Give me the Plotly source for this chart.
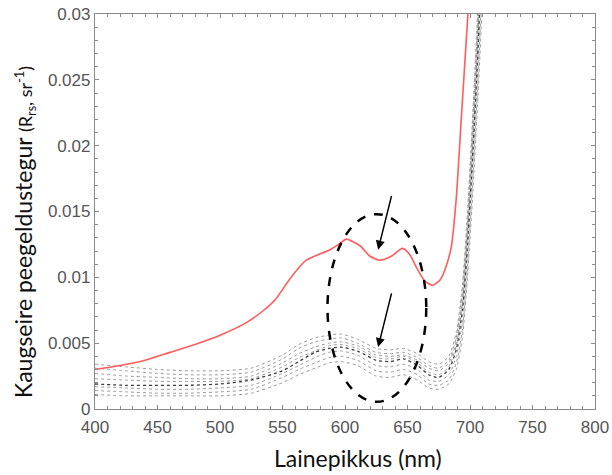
import plotly.graph_objects as go

# Remote-sensing reflectance spectra (Rrs, sr^-1) against wavelength (nm)
WL_RED = [400, 420, 440, 460, 480, 500, 520, 535, 545, 553, 561, 569, 578, 588, 595,
          601, 612, 620, 628, 637, 646, 652, 658, 664, 670, 676, 680, 685, 689, 693, 696, 699]
RRS_RED = [0.0030, 0.0033, 0.0037, 0.0043, 0.0049, 0.0056, 0.0065, 0.0075, 0.0084, 0.0095,
           0.0105, 0.0113, 0.0117, 0.0121, 0.0125, 0.0129, 0.0124, 0.0116, 0.0113, 0.0116,
           0.0122, 0.0117, 0.0106, 0.0097, 0.0094, 0.0098, 0.0106, 0.0123, 0.0160, 0.0220,
           0.0265, 0.0310]

WL_GRAY = [400, 425, 450, 475, 500, 525, 550, 563, 576, 587, 597, 610, 625, 636, 647,
           658, 667, 675, 683, 689, 694, 698, 702, 706, 710, 714]

RRS_G1 = [0.0034, 0.0032, 0.0030, 0.0029, 0.0029, 0.0031, 0.0041, 0.0049, 0.0054, 0.0056,
          0.0057, 0.0053, 0.0046, 0.0045, 0.0046, 0.0042, 0.0036, 0.0034, 0.0040, 0.0058,
          0.0095, 0.0150, 0.0220, 0.0300, 0.0400, 0.0500]
RRS_G2 = [0.0031, 0.0029, 0.0027, 0.0026, 0.0026, 0.0028, 0.0038, 0.0046, 0.0051, 0.0053,
          0.0054, 0.0050, 0.0043, 0.0042, 0.0043, 0.0039, 0.0033, 0.0031, 0.0037, 0.0054,
          0.0090, 0.0144, 0.0214, 0.0292, 0.0390, 0.0490]
RRS_G3 = [0.0027, 0.0025, 0.0024, 0.0023, 0.0023, 0.0025, 0.0035, 0.0042, 0.0047, 0.0050,
          0.0051, 0.0048, 0.0041, 0.0040, 0.0041, 0.0037, 0.0031, 0.0029, 0.0035, 0.0051,
          0.0085, 0.0138, 0.0206, 0.0284, 0.0380, 0.0480]
RRS_G4 = [0.0023, 0.0022, 0.0021, 0.0021, 0.0021, 0.0023, 0.0032, 0.0039, 0.0044, 0.0048,
          0.0049, 0.0046, 0.0039, 0.0038, 0.0040, 0.0035, 0.0028, 0.0026, 0.0032, 0.0048,
          0.0080, 0.0132, 0.0198, 0.0275, 0.0370, 0.0470]
RRS_MEAN = [0.0019, 0.0018, 0.0018, 0.0018, 0.0019, 0.0022, 0.0029, 0.0036, 0.0043, 0.0046,
            0.0047, 0.0044, 0.0037, 0.0036, 0.0038, 0.0033, 0.0026, 0.0024, 0.0030, 0.0045,
            0.0076, 0.0126, 0.0191, 0.0266, 0.0360, 0.0460]
RRS_G6 = [0.0017, 0.0016, 0.0015, 0.0015, 0.0016, 0.0018, 0.0027, 0.0033, 0.0039, 0.0043,
          0.0044, 0.0041, 0.0033, 0.0032, 0.0034, 0.0030, 0.0022, 0.0021, 0.0026, 0.0040,
          0.0068, 0.0118, 0.0182, 0.0256, 0.0345, 0.0445]
RRS_G7 = [0.0014, 0.0013, 0.0012, 0.0012, 0.0013, 0.0015, 0.0024, 0.0030, 0.0035, 0.0039,
          0.0040, 0.0037, 0.0029, 0.0028, 0.0030, 0.0026, 0.0019, 0.0018, 0.0022, 0.0035,
          0.0061, 0.0108, 0.0170, 0.0243, 0.0328, 0.0420]
RRS_G8 = [0.0011, 0.0010, 0.0010, 0.0010, 0.0010, 0.0012, 0.0020, 0.0026, 0.0031, 0.0035,
          0.0036, 0.0033, 0.0025, 0.0024, 0.0026, 0.0022, 0.0016, 0.0015, 0.0019, 0.0030,
          0.0055, 0.0100, 0.0160, 0.0230, 0.0310, 0.0400]

GRAY_SERIES = [RRS_G1, RRS_G2, RRS_G3, RRS_G4, RRS_G6, RRS_G7, RRS_G8]

X_TICKS = [400, 450, 500, 550, 600, 650, 700, 750, 800]
Y_TICKS = [0, 0.005, 0.01, 0.015, 0.02, 0.025, 0.03]
Y_TICK_TEXT = ["0", "0.005", "0.01", "0.015", "0.02", "0.025", "0.03"]

# highlighted region (ellipse) and arrows pointing at the spectral dip
ELLIPSE_X = [586, 665]
ELLIPSE_Y = [0.00055, 0.0148]
ARROW_UPPER = [(637.5, 0.0163), (626.5, 0.0121)]
ARROW_LOWER = [(637.5, 0.0089), (626.5, 0.0047)]

fig = go.Figure()

for vals in GRAY_SERIES:
    fig.add_trace(go.Scatter(x=WL_GRAY, y=vals, mode="lines",
                             line=dict(color="#9a9a9a", width=1, dash="dot",
                                       shape="spline", smoothing=0.6),
                             hoverinfo="skip", showlegend=False))

fig.add_trace(go.Scatter(x=WL_GRAY, y=RRS_MEAN, mode="lines",
                         line=dict(color="#3a3a3a", width=1.3, dash="dot",
                                   shape="spline", smoothing=0.6),
                         showlegend=False))

fig.add_trace(go.Scatter(x=WL_RED, y=RRS_RED, mode="lines",
                         line=dict(color="#ff5c5c", width=1.6,
                                   shape="spline", smoothing=0.6),
                         showlegend=False))

fig.add_shape(type="circle", xref="x", yref="y",
              x0=ELLIPSE_X[0], x1=ELLIPSE_X[1], y0=ELLIPSE_Y[0], y1=ELLIPSE_Y[1],
              line=dict(color="black", width=2.5, dash="dash"))

for (tail, head) in (ARROW_UPPER, ARROW_LOWER):
    fig.add_annotation(x=head[0], y=head[1], ax=tail[0], ay=tail[1],
                       xref="x", yref="y", axref="x", ayref="y",
                       text="", showarrow=True, arrowhead=2, arrowsize=1.2,
                       arrowwidth=1.5, arrowcolor="black")

# axis titles
fig.add_annotation(text="Lainepikkus (nm)", xref="paper", yref="paper",
                   x=(358 - 95) / 500, y=(409 - 458) / 395, showarrow=False,
                   xanchor="center", yanchor="middle",
                   font=dict(family="Lato", size=23, color="#111"))
fig.add_annotation(text="Kaugseire peegeldustegur <span style='font-size:18px'>(R<sub>rs</sub>, sr<sup>-1</sup>)</span>",
                   xref="paper", yref="paper", x=(24 - 95) / 500, y=(409 - 232) / 395,
                   textangle=-90, showarrow=False, xanchor="center", yanchor="middle",
                   font=dict(family="Lato", size=23, color="#111"))

axis_common = dict(showline=True, linecolor="#8a8a8a", linewidth=1.3, mirror="ticks",
                   ticks="inside", ticklen=4, tickcolor="#8a8a8a", tickwidth=1,
                   showgrid=False, zeroline=False, automargin=False,
                   tickfont=dict(family="Liberation Sans", size=17, color="#555"))

fig.update_xaxes(range=[400, 800], tickvals=X_TICKS, ticklabelstandoff=2,
                 minor=dict(ticks="inside", dtick=10, ticklen=2.5, tickcolor="#8a8a8a",
                            showgrid=False),
                 **axis_common)
fig.update_yaxes(range=[0, 0.03], tickvals=Y_TICKS, ticktext=Y_TICK_TEXT,
                 minor=dict(ticks="inside", dtick=0.001, ticklen=2.5, tickcolor="#8a8a8a",
                            showgrid=False),
                 **axis_common)

fig.update_layout(width=612, height=475, margin=dict(l=95, r=17, t=14, b=66),
                  plot_bgcolor="white", paper_bgcolor="white", showlegend=False)

fig.write_html("out.html")
